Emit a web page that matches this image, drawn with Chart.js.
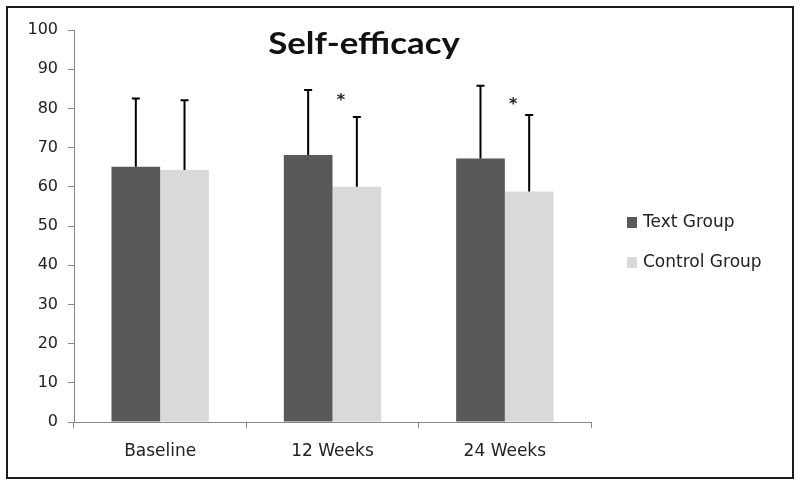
<!DOCTYPE html>
<html>
<head>
<meta charset="utf-8">
<script src="https://cdn.jsdelivr.net/npm/chart.js@4/dist/chart.umd.min.js"></script>
<style>
  html, body { margin: 0; padding: 0; background: #fff; }
  #wrap { position: relative; width: 800px; height: 485px; }
  #frame { position: absolute; left: 6px; top: 6px; width: 784px; height: 469px; border: 2px solid #1a1a1a; pointer-events: none; }
</style>
</head>
<body>
<div id="wrap">
  <canvas id="chart" width="800" height="485"></canvas>
  <div id="frame"></div>
</div>
<script>
// data
var categories = ["Baseline", "12 Weeks", "24 Weeks"];
var textGroup = [65.1, 68.1, 67.2];
var controlGroup = [64.3, 60.0, 58.8];
// upper end of the error bars
var textGroupErr = [82.5, 84.7, 85.8];
var controlGroupErr = [82.1, 77.8, 78.3];
// significance marks, y value of the asterisk (null = none)
var starAt = [null, 82.8, 81.8];

var darkGrey = "#595959";
var lightGrey = "#d9d9d9";

// draws the upper error bars from the error arrays
var errorBars = {
  id: "errorBars",
  afterDatasetsDraw: function(chart) {
    var ctx = chart.ctx;
    var y = chart.scales.y;
    var errs = [textGroupErr, controlGroupErr];
    ctx.save();
    ctx.strokeStyle = "#000";
    ctx.lineWidth = 2;
    chart.data.datasets.forEach(function(ds, i) {
      var meta = chart.getDatasetMeta(i);
      meta.data.forEach(function(bar, j) {
        var top = y.getPixelForValue(errs[i][j]);
        ctx.beginPath();
        ctx.moveTo(bar.x, bar.y);
        ctx.lineTo(bar.x, top);
        ctx.moveTo(bar.x - 4, top);
        ctx.lineTo(bar.x + 4, top);
        ctx.stroke();
      });
    });
    // asterisks
    ctx.fillStyle = "#222";
    ctx.font = "bold 16px 'DejaVu Sans'";
    ctx.textAlign = "center";
    ctx.textBaseline = "middle";
    var meta2 = chart.getDatasetMeta(1);
    starAt.forEach(function(v, j) {
      if (v === null) return;
      ctx.fillText("*", meta2.data[j].x - 16, y.getPixelForValue(v) + 3);
    });
    ctx.restore();
  }
};

// title and legend drawn by hand so they sit where the original has them
var extras = {
  id: "extras",
  afterDraw: function(chart) {
    var ctx = chart.ctx;
    ctx.save();
    ctx.fillStyle = "#111";
    ctx.font = "bold 30px Lato";
    ctx.textAlign = "center";
    ctx.textBaseline = "middle";
    ctx.translate(364, 44);
    ctx.scale(1.16, 1);
    ctx.fillText("Self-efficacy", 0, 0);
    ctx.restore();

    ctx.save();
    ctx.font = "17px 'DejaVu Sans'";
    ctx.textAlign = "left";
    ctx.textBaseline = "middle";
    chart.data.datasets.forEach(function(ds, i) {
      var cy = 222 + i * 40;
      ctx.fillStyle = ds.backgroundColor;
      ctx.fillRect(627, cy - 5, 10, 11);
      ctx.fillStyle = "#222";
      ctx.fillText(ds.label, 643, cy + 1);
    });
    ctx.restore();
  }
};

new Chart(document.getElementById("chart"), {
  type: "bar",
  data: {
    labels: categories,
    datasets: [
      { label: "Text Group", data: textGroup, backgroundColor: darkGrey },
      { label: "Control Group", data: controlGroup, backgroundColor: lightGrey }
    ]
  },
  options: {
    responsive: false,
    animation: false,
    layout: { padding: { left: 0, top: 30, right: 209, bottom: 0 } },
    datasets: { bar: { barPercentage: 1.0, categoryPercentage: 0.565 } },
    plugins: {
      legend: { display: false },
      tooltip: { enabled: false }
    },
    scales: {
      x: {
        grid: { drawOnChartArea: false, drawTicks: true, tickLength: 6, color: "#888", offset: true },
        border: { color: "#888", width: 1 },
        ticks: { color: "#222", font: { family: "DejaVu Sans", size: 17 }, padding: 13 },
        afterFit: function(s) { s.height = 63; }
      },
      y: {
        min: 0,
        max: 100,
        ticks: { stepSize: 10, color: "#222", font: { family: "DejaVu Sans", size: 16 }, padding: 10 },
        grid: { drawOnChartArea: false, drawTicks: true, tickLength: 6, color: "#888" },
        border: { color: "#888", width: 1 },
        afterFit: function(s) { s.width = 74; }
      }
    }
  },
  plugins: [errorBars, extras]
});
</script>
</body>
</html>
